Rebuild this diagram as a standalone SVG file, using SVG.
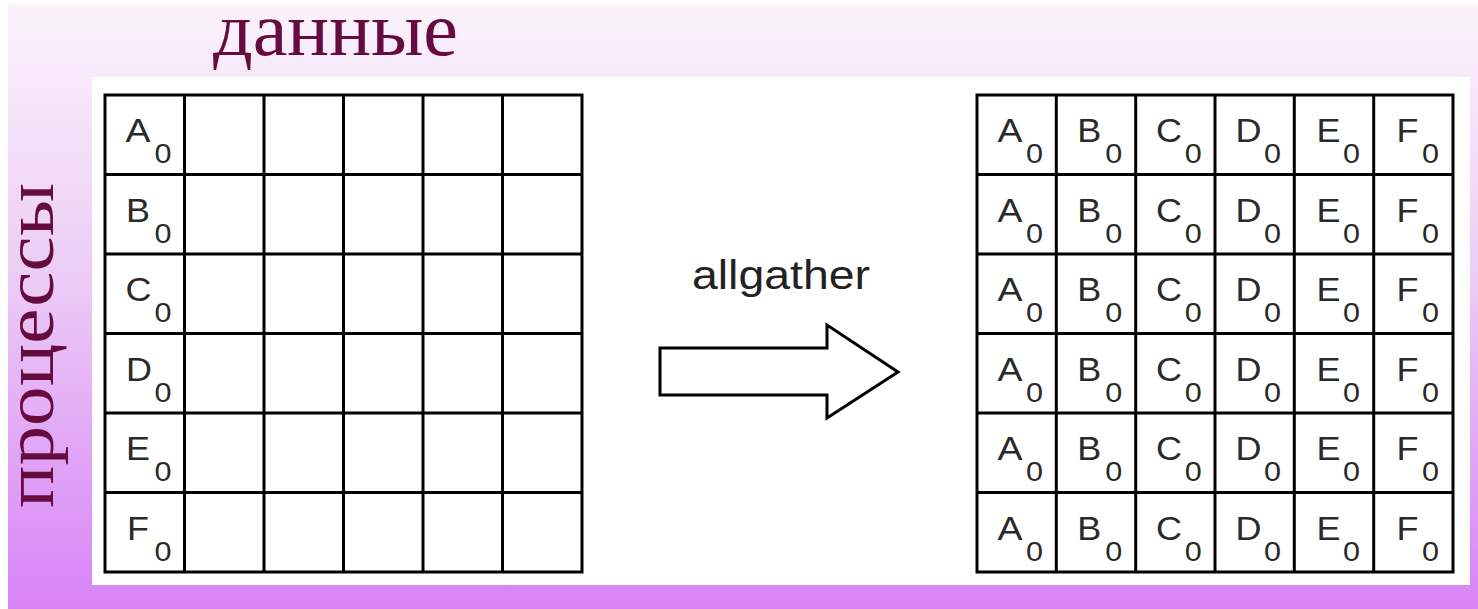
<svg xmlns="http://www.w3.org/2000/svg" width="1478" height="609" viewBox="0 0 1478 609">
<defs>
<linearGradient id="bg" x1="0" y1="0" x2="0" y2="1">
<stop offset="0" stop-color="#fbf3fc"/>
<stop offset="0.45" stop-color="#ecccf5"/>
<stop offset="1" stop-color="#d783f7"/>
</linearGradient>
<style>
.ln{stroke:#000;stroke-width:3;fill:none}
.cellbg{fill:#fff}
.l{font-family:"Liberation Sans",Arial,sans-serif;font-size:33px;fill:#2a2a2a}
.s{font-family:"Liberation Sans",Arial,sans-serif;font-size:28px;fill:#2a2a2a}
.title{font-family:"Liberation Serif","Times New Roman",serif;fill:#660b3e}
</style>
</defs>
<rect x="0" y="0" width="1478" height="609" fill="#fff"/>
<rect x="8" y="4" width="1470" height="605" fill="url(#bg)"/>
<rect x="92" y="77" width="1378" height="508" fill="#fff"/>
<text class="title" x="213" y="55" font-size="76" textLength="245" lengthAdjust="spacingAndGlyphs">данные</text>
<text class="title" transform="translate(53,508) rotate(-90)" font-size="70" textLength="325" lengthAdjust="spacingAndGlyphs">процессы</text>

<g id="grid-before">
<rect class="cellbg" x="105" y="95" width="477" height="477"/>
<text class="l" x="125.5" y="142" textLength="25" lengthAdjust="spacingAndGlyphs">A</text><text class="s" x="154.5" y="163" textLength="17" lengthAdjust="spacingAndGlyphs">0</text>
<text class="l" x="126" y="221.5" textLength="24" lengthAdjust="spacingAndGlyphs">B</text><text class="s" x="154.5" y="242.5" textLength="17" lengthAdjust="spacingAndGlyphs">0</text>
<text class="l" x="125.5" y="301" textLength="26" lengthAdjust="spacingAndGlyphs">C</text><text class="s" x="154.5" y="322" textLength="17" lengthAdjust="spacingAndGlyphs">0</text>
<text class="l" x="126" y="380.5" textLength="26" lengthAdjust="spacingAndGlyphs">D</text><text class="s" x="154.5" y="401.5" textLength="17" lengthAdjust="spacingAndGlyphs">0</text>
<text class="l" x="126" y="460" textLength="24" lengthAdjust="spacingAndGlyphs">E</text><text class="s" x="154.5" y="481" textLength="17" lengthAdjust="spacingAndGlyphs">0</text>
<text class="l" x="127" y="539.5" textLength="22" lengthAdjust="spacingAndGlyphs">F</text><text class="s" x="154.5" y="560.5" textLength="17" lengthAdjust="spacingAndGlyphs">0</text>
<path class="ln" d="M105,95H582V572H105Z M184.5,95V572 M264,95V572 M343.5,95V572 M423,95V572 M502.5,95V572 M105,174.5H582 M105,254H582 M105,333.5H582 M105,413H582 M105,492.5H582"/>
</g>

<g id="connectors">
<text x="692" y="289" font-family="Liberation Sans, Arial, sans-serif" font-size="40" fill="#222" textLength="178" lengthAdjust="spacingAndGlyphs">allgather</text>
<polygon points="660,348 827,348 827,325 898,372 827,418 827,395 660,395" fill="#fff" stroke="#000" stroke-width="3" stroke-linejoin="miter"/>
</g>

<g id="grid-after">
<rect class="cellbg" x="977" y="95" width="476" height="477"/>
<g id="r1">
<text class="l" x="997.5" y="142" textLength="25" lengthAdjust="spacingAndGlyphs">A</text><text class="s" x="1026" y="163" textLength="17" lengthAdjust="spacingAndGlyphs">0</text>
<text class="l" x="1077.3" y="142" textLength="24" lengthAdjust="spacingAndGlyphs">B</text><text class="s" x="1105.3" y="163" textLength="17" lengthAdjust="spacingAndGlyphs">0</text>
<text class="l" x="1156" y="142" textLength="26" lengthAdjust="spacingAndGlyphs">C</text><text class="s" x="1184.7" y="163" textLength="17" lengthAdjust="spacingAndGlyphs">0</text>
<text class="l" x="1235.5" y="142" textLength="26" lengthAdjust="spacingAndGlyphs">D</text><text class="s" x="1264" y="163" textLength="17" lengthAdjust="spacingAndGlyphs">0</text>
<text class="l" x="1316.5" y="142" textLength="24" lengthAdjust="spacingAndGlyphs">E</text><text class="s" x="1343" y="163" textLength="17" lengthAdjust="spacingAndGlyphs">0</text>
<text class="l" x="1396.5" y="142" textLength="22" lengthAdjust="spacingAndGlyphs">F</text><text class="s" x="1422" y="163" textLength="17" lengthAdjust="spacingAndGlyphs">0</text>
</g>
<g id="r2">
<text class="l" x="997.5" y="221.5" textLength="25" lengthAdjust="spacingAndGlyphs">A</text><text class="s" x="1026" y="242.5" textLength="17" lengthAdjust="spacingAndGlyphs">0</text>
<text class="l" x="1077.3" y="221.5" textLength="24" lengthAdjust="spacingAndGlyphs">B</text><text class="s" x="1105.3" y="242.5" textLength="17" lengthAdjust="spacingAndGlyphs">0</text>
<text class="l" x="1156" y="221.5" textLength="26" lengthAdjust="spacingAndGlyphs">C</text><text class="s" x="1184.7" y="242.5" textLength="17" lengthAdjust="spacingAndGlyphs">0</text>
<text class="l" x="1235.5" y="221.5" textLength="26" lengthAdjust="spacingAndGlyphs">D</text><text class="s" x="1264" y="242.5" textLength="17" lengthAdjust="spacingAndGlyphs">0</text>
<text class="l" x="1316.5" y="221.5" textLength="24" lengthAdjust="spacingAndGlyphs">E</text><text class="s" x="1343" y="242.5" textLength="17" lengthAdjust="spacingAndGlyphs">0</text>
<text class="l" x="1396.5" y="221.5" textLength="22" lengthAdjust="spacingAndGlyphs">F</text><text class="s" x="1422" y="242.5" textLength="17" lengthAdjust="spacingAndGlyphs">0</text>
</g>
<g id="r3">
<text class="l" x="997.5" y="301" textLength="25" lengthAdjust="spacingAndGlyphs">A</text><text class="s" x="1026" y="322" textLength="17" lengthAdjust="spacingAndGlyphs">0</text>
<text class="l" x="1077.3" y="301" textLength="24" lengthAdjust="spacingAndGlyphs">B</text><text class="s" x="1105.3" y="322" textLength="17" lengthAdjust="spacingAndGlyphs">0</text>
<text class="l" x="1156" y="301" textLength="26" lengthAdjust="spacingAndGlyphs">C</text><text class="s" x="1184.7" y="322" textLength="17" lengthAdjust="spacingAndGlyphs">0</text>
<text class="l" x="1235.5" y="301" textLength="26" lengthAdjust="spacingAndGlyphs">D</text><text class="s" x="1264" y="322" textLength="17" lengthAdjust="spacingAndGlyphs">0</text>
<text class="l" x="1316.5" y="301" textLength="24" lengthAdjust="spacingAndGlyphs">E</text><text class="s" x="1343" y="322" textLength="17" lengthAdjust="spacingAndGlyphs">0</text>
<text class="l" x="1396.5" y="301" textLength="22" lengthAdjust="spacingAndGlyphs">F</text><text class="s" x="1422" y="322" textLength="17" lengthAdjust="spacingAndGlyphs">0</text>
</g>
<g id="r4">
<text class="l" x="997.5" y="380.5" textLength="25" lengthAdjust="spacingAndGlyphs">A</text><text class="s" x="1026" y="401.5" textLength="17" lengthAdjust="spacingAndGlyphs">0</text>
<text class="l" x="1077.3" y="380.5" textLength="24" lengthAdjust="spacingAndGlyphs">B</text><text class="s" x="1105.3" y="401.5" textLength="17" lengthAdjust="spacingAndGlyphs">0</text>
<text class="l" x="1156" y="380.5" textLength="26" lengthAdjust="spacingAndGlyphs">C</text><text class="s" x="1184.7" y="401.5" textLength="17" lengthAdjust="spacingAndGlyphs">0</text>
<text class="l" x="1235.5" y="380.5" textLength="26" lengthAdjust="spacingAndGlyphs">D</text><text class="s" x="1264" y="401.5" textLength="17" lengthAdjust="spacingAndGlyphs">0</text>
<text class="l" x="1316.5" y="380.5" textLength="24" lengthAdjust="spacingAndGlyphs">E</text><text class="s" x="1343" y="401.5" textLength="17" lengthAdjust="spacingAndGlyphs">0</text>
<text class="l" x="1396.5" y="380.5" textLength="22" lengthAdjust="spacingAndGlyphs">F</text><text class="s" x="1422" y="401.5" textLength="17" lengthAdjust="spacingAndGlyphs">0</text>
</g>
<g id="r5">
<text class="l" x="997.5" y="460" textLength="25" lengthAdjust="spacingAndGlyphs">A</text><text class="s" x="1026" y="481" textLength="17" lengthAdjust="spacingAndGlyphs">0</text>
<text class="l" x="1077.3" y="460" textLength="24" lengthAdjust="spacingAndGlyphs">B</text><text class="s" x="1105.3" y="481" textLength="17" lengthAdjust="spacingAndGlyphs">0</text>
<text class="l" x="1156" y="460" textLength="26" lengthAdjust="spacingAndGlyphs">C</text><text class="s" x="1184.7" y="481" textLength="17" lengthAdjust="spacingAndGlyphs">0</text>
<text class="l" x="1235.5" y="460" textLength="26" lengthAdjust="spacingAndGlyphs">D</text><text class="s" x="1264" y="481" textLength="17" lengthAdjust="spacingAndGlyphs">0</text>
<text class="l" x="1316.5" y="460" textLength="24" lengthAdjust="spacingAndGlyphs">E</text><text class="s" x="1343" y="481" textLength="17" lengthAdjust="spacingAndGlyphs">0</text>
<text class="l" x="1396.5" y="460" textLength="22" lengthAdjust="spacingAndGlyphs">F</text><text class="s" x="1422" y="481" textLength="17" lengthAdjust="spacingAndGlyphs">0</text>
</g>
<g id="r6">
<text class="l" x="997.5" y="539.5" textLength="25" lengthAdjust="spacingAndGlyphs">A</text><text class="s" x="1026" y="560.5" textLength="17" lengthAdjust="spacingAndGlyphs">0</text>
<text class="l" x="1077.3" y="539.5" textLength="24" lengthAdjust="spacingAndGlyphs">B</text><text class="s" x="1105.3" y="560.5" textLength="17" lengthAdjust="spacingAndGlyphs">0</text>
<text class="l" x="1156" y="539.5" textLength="26" lengthAdjust="spacingAndGlyphs">C</text><text class="s" x="1184.7" y="560.5" textLength="17" lengthAdjust="spacingAndGlyphs">0</text>
<text class="l" x="1235.5" y="539.5" textLength="26" lengthAdjust="spacingAndGlyphs">D</text><text class="s" x="1264" y="560.5" textLength="17" lengthAdjust="spacingAndGlyphs">0</text>
<text class="l" x="1316.5" y="539.5" textLength="24" lengthAdjust="spacingAndGlyphs">E</text><text class="s" x="1343" y="560.5" textLength="17" lengthAdjust="spacingAndGlyphs">0</text>
<text class="l" x="1396.5" y="539.5" textLength="22" lengthAdjust="spacingAndGlyphs">F</text><text class="s" x="1422" y="560.5" textLength="17" lengthAdjust="spacingAndGlyphs">0</text>
</g>
<path class="ln" d="M977,95H1453V572H977Z M1056.3,95V572 M1135.7,95V572 M1215,95V572 M1294.3,95V572 M1373.7,95V572 M977,174.5H1453 M977,254H1453 M977,333.5H1453 M977,413H1453 M977,492.5H1453"/>
</g>
</svg>
